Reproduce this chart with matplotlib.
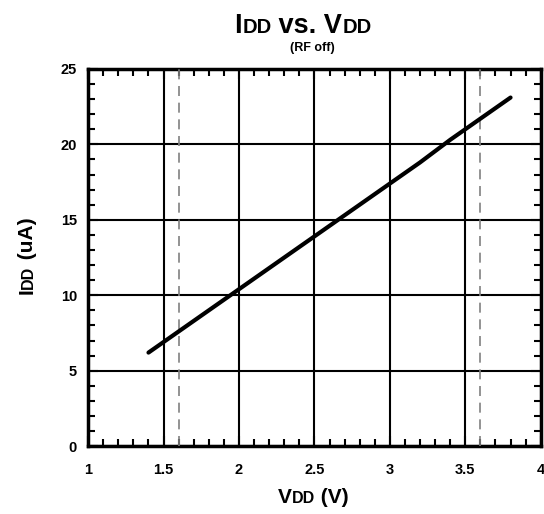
import numpy as np
import matplotlib
matplotlib.use('Agg')
import matplotlib.pyplot as plt
from matplotlib.ticker import MultipleLocator
from matplotlib.transforms import IdentityTransform

plt.rcParams['font.family'] = ['Liberation Sans', 'DejaVu Sans']
plt.rcParams['font.weight'] = 'bold'

# data
vdd = [1.4, 1.6, 1.8, 2.0, 2.2, 2.4, 2.6, 2.8, 3.0, 3.2, 3.4, 3.6, 3.8]
idd = [6.2, 7.6, 9.0, 10.4, 11.8, 13.2, 14.6, 16.0, 17.4, 18.8, 20.3, 21.7, 23.1]
limits = [1.6, 3.6]


def rich_text(fig, x, y, pieces, rotation=0):
    # draw a row of text pieces of different size, centred at pixel (x, y) baseline
    r = fig.canvas.get_renderer()
    texts = []
    widths = []
    for s, size in pieces:
        t = fig.text(0, 0, s, fontsize=size, fontweight='bold', ha='left',
                     va='baseline', transform=IdentityTransform(),
                     rotation=rotation, rotation_mode='anchor')
        t.set_rotation(0)
        widths.append(t.get_window_extent(r).width)
        t.set_rotation(rotation)
        texts.append(t)
    pos = -sum(widths) / 2
    for t, w in zip(texts, widths):
        if rotation == 90:
            t.set_position((x, y + pos))
        else:
            t.set_position((x + pos, y))
        pos += w


fig = plt.figure(figsize=(5.44, 5.14), dpi=100)
ax = fig.add_axes([0.162, 0.132, 0.832, 0.734])

ax.plot(vdd, idd, color='black', lw=3, solid_capstyle='round', zorder=4)
for v in limits:
    ax.axvline(v, color='#808080', lw=1.2, ls=(0, (6, 4)), zorder=3)

ax.set_xlim(1, 4)
ax.set_ylim(0, 25)
ax.xaxis.set_major_locator(MultipleLocator(0.5))
ax.xaxis.set_minor_locator(MultipleLocator(0.1))
ax.yaxis.set_major_locator(MultipleLocator(5))
ax.yaxis.set_minor_locator(MultipleLocator(1))
ax.set_xticks([1, 1.5, 2, 2.5, 3, 3.5, 4])
ax.set_xticklabels(['1', '1.5', '2', '2.5', '3', '3.5', '4'])
ax.grid(True, which='major', color='black', lw=1.5)
ax.tick_params(which='both', direction='in', top=True, right=True,
               labelsize=10.5, width=1.5)
ax.tick_params(which='major', length=7)
ax.tick_params(which='minor', length=5)
ax.tick_params(axis='x', pad=12)
ax.tick_params(axis='y', pad=8)
for lab in ax.get_xticklabels() + ax.get_yticklabels():
    lab.set_fontweight('bold')
for sp in ax.spines.values():
    sp.set_linewidth(2.5)

H = 514
rich_text(fig, 303, H - 33, [('I', 19.5), ('DD', 14.5), (' vs. V', 19.5), ('DD', 14.5)])
fig.text(312, H - 51, '(RF off)', fontsize=9, fontweight='bold', ha='center',
         va='baseline', transform=IdentityTransform())
rich_text(fig, 313, H - 503, [('V', 15), ('DD', 11.5), (' (V)', 15)])
rich_text(fig, 33, H - 256, [('I', 15), ('DD', 11.5), (' (uA)', 15)], rotation=90)

fig.savefig('out.png', dpi=100)
